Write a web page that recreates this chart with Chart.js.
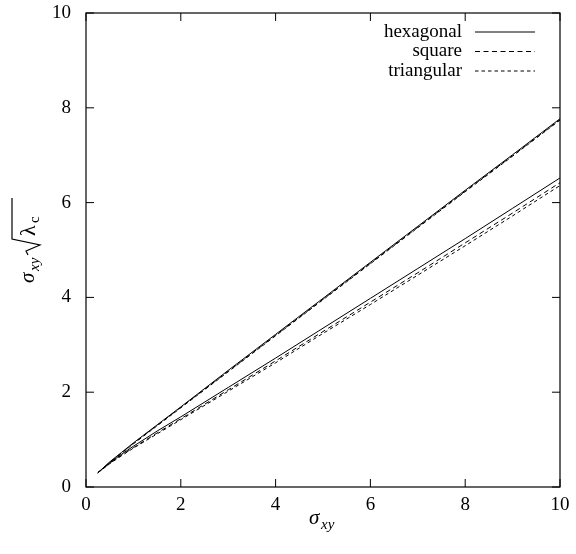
<!DOCTYPE html>
<html><head><meta charset="utf-8">
<script src="https://cdn.jsdelivr.net/npm/chart.js@4"></script>
<style>html,body{margin:0;padding:0;background:#fff}#wrap{width:576px;height:554px}</style>
</head><body><div id="wrap"><canvas id="c" width="576" height="554"></canvas></div>
<script>
const xs = [0.25,0.5,0.75,1,1.5,2,3,4,5,6,7,8,9,10];
const hexUpper = [0.3,0.53,0.73,0.93,1.31,1.69,2.46,3.22,3.98,4.74,5.5,6.26,7.01,7.77];
const sqUpper  = [0.3,0.52,0.72,0.92,1.3,1.68,2.44,3.2,3.96,4.72,5.48,6.24,6.99,7.75];
const triUpper = [0.3,0.51,0.71,0.91,1.29,1.67,2.43,3.19,3.95,4.71,5.47,6.23,6.98,7.74];
const hexLower = [0.3,0.51,0.69,0.86,1.18,1.48,2.1,2.72,3.35,3.98,4.61,5.24,5.88,6.52];
const sqLower  = [0.3,0.5,0.67,0.83,1.14,1.44,2.05,2.66,3.28,3.9,4.52,5.15,5.78,6.42];
const triLower = [0.3,0.49,0.66,0.82,1.12,1.42,2.02,2.62,3.24,3.85,4.47,5.09,5.72,6.36];
const xTicks = [0,2,4,6,8,10];
const yTicks = [0,2,4,6,8,10];
const legendLabels = ['hexagonal','square','triangular'];
const dashes = [[],[5,3.5],[3.5,3]];

const pts = ys => xs.map((x,i)=>({x, y: ys[i]}));
const mk = (ys, d) => ({data: pts(ys), borderColor:'#000', borderWidth:1, borderDash:d, pointRadius:0, fill:false, tension:0});

const serif = '"Liberation Serif", "DejaVu Serif", serif';

const deco = {
  id:'deco',
  afterDraw(chart){
    const {ctx, chartArea:a, scales:{x, y}} = chart;
    ctx.save();
    ctx.strokeStyle='#000'; ctx.lineWidth=1.2;
    ctx.strokeRect(a.left, a.top, a.right-a.left, a.bottom-a.top);
    ctx.lineWidth=1;
    const L=8;
    ctx.beginPath();
    xTicks.forEach(v=>{const px=x.getPixelForValue(v);
      ctx.moveTo(px,a.bottom);ctx.lineTo(px,a.bottom-L);
      ctx.moveTo(px,a.top);ctx.lineTo(px,a.top+L);});
    yTicks.forEach(v=>{const py=y.getPixelForValue(v);
      ctx.moveTo(a.left,py);ctx.lineTo(a.left+L,py);
      ctx.moveTo(a.right,py);ctx.lineTo(a.right-L,py);});
    ctx.stroke();
    ctx.fillStyle='#000';
    ctx.font='19px '+serif;
    ctx.textAlign='center'; ctx.textBaseline='middle';
    xTicks.forEach(v=>ctx.fillText(String(v), x.getPixelForValue(v), a.bottom+18));
    ctx.textAlign='right';
    yTicks.forEach(v=>ctx.fillText(String(v), a.left-15, y.getPixelForValue(v)));
    // legend
    ctx.textAlign='right'; ctx.textBaseline='middle';
    legendLabels.forEach((t,i)=>{
      const yy=a.top+19+i*19.5;
      ctx.fillText(t, 462, yy);
      ctx.setLineDash(dashes[i]);
      ctx.beginPath(); ctx.moveTo(475,yy); ctx.lineTo(535,yy); ctx.stroke();
    });
    ctx.setLineDash([]);
    // x title
    ctx.textAlign='left'; ctx.textBaseline='alphabetic';
    const xc=(a.left+a.right)/2;
    ctx.font='italic 21px '+serif;
    ctx.fillText('σ', xc-14, 524);
    ctx.font='italic 15px '+serif;
    ctx.fillText('xy', xc-2, 529);
    // y title rotated
    ctx.translate(30, 240);
    ctx.rotate(-Math.PI/2);
    ctx.font='italic 21px '+serif;
    ctx.fillText('σ', -43, 4);
    ctx.font='italic 15px '+serif;
    ctx.fillText('xy', -31, 9);
    ctx.lineWidth=1.2;
    ctx.beginPath();
    ctx.moveTo(-15,-2); ctx.lineTo(-11,-4); ctx.lineTo(-5,10); ctx.lineTo(1,-18); ctx.lineTo(42,-18);
    ctx.stroke();
    ctx.font='22px '+serif;
    ctx.fillText('λ', 4, 5);
    ctx.font='15px '+serif;
    ctx.fillText('c', 17, 9);
    ctx.restore();
  }
};

new Chart(document.getElementById('c'), {
  type:'line',
  data:{datasets:[mk(hexUpper,[]),mk(sqUpper,[5,3.5]),mk(triUpper,[3.5,3]),mk(hexLower,[]),mk(sqLower,[5,3.5]),mk(triLower,[3.5,3])]},
  options:{
    responsive:false, animation:false,
    layout:{padding:{top:13,right:16,left:0,bottom:0}},
    plugins:{legend:{display:false},tooltip:{enabled:false}},
    scales:{
      x:{type:'linear',min:0,max:10,
        afterBuildTicks(s){s.ticks=xTicks.map(v=>({value:v}));},
        afterFit(s){s.height=67;},
        grid:{display:false,drawTicks:false},border:{display:false},
        ticks:{display:false}},
      y:{type:'linear',min:0,max:10,
        afterBuildTicks(s){s.ticks=yTicks.map(v=>({value:v}));},
        afterFit(s){s.width=86;},
        grid:{display:false,drawTicks:false},border:{display:false},
        ticks:{display:false}}
    }
  },
  plugins:[deco]
});
</script></body></html>
